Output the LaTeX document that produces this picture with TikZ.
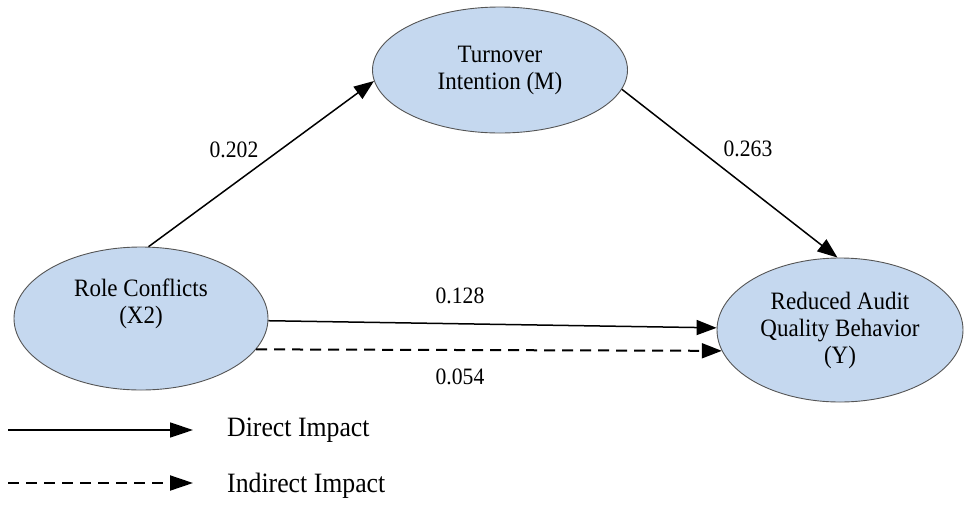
\documentclass[tikz,border=0pt]{standalone}
\usepackage{fontspec}
\setmainfont{LiberationSerif}[Extension=.ttf, UprightFont=*-Regular, BoldFont=*-Bold, ItalicFont=*-Italic, BoldItalicFont=*-BoldItalic, FakeStretch=0.92]
\usetikzlibrary{arrows.meta,shapes.geometric}
\definecolor{ellfill}{HTML}{C5D8EF}
\definecolor{ellline}{HTML}{555555}
\tikzset{
  var/.style={ellipse, draw=ellline, line width=0.9pt, fill=ellfill, inner sep=0pt,
    align=center, font=\fontsize{25}{27}\selectfont},
  path/.style={line width=1.5pt, -{Triangle[length=20pt,width=15pt]}},
  ipath/.style={path, line width=2pt, dash pattern=on 11pt off 7pt},
  coef/.style={font=\fontsize{23.5}{26}\selectfont, inner sep=0pt},
  legtext/.style={font=\fontsize{28}{30}\selectfont, anchor=west, inner sep=0pt}
}
\begin{document}
\begin{tikzpicture}[x=1pt,y=-1pt]
\useasboundingbox (0,0) rectangle (964,504);
\node[var, minimum width=255pt, minimum height=126pt] (M) at (500,70) {Turnover\\Intention (M)};
\node[var, minimum width=254pt, minimum height=143pt] (X) at (141,318.5) {Role Conflicts\\(X2)\\[8pt]};
\node[var, minimum width=246pt, minimum height=144pt] (Y) at (840,330) {Reduced Audit\\Quality Behavior\\(Y)};
\draw[path] (X.84.3) -- (M.185.8);
\draw[path] (M.-9) -- (Y.92.4);
\draw[path] (X.-1.1) -- (Y.179);
\draw[ipath] (X.-15.8) -- (Y.190.8);
\node[coef] (c1) at (234,150) {0.202};
\node[coef] (c2) at (748,149) {0.263};
\node[coef] (c3) at (460,296) {0.128};
\node[coef] (c4) at (460,377) {0.054};
\coordinate (d1) at (8,430);
\coordinate (d2) at (193,430);
\coordinate (i1) at (8,483);
\coordinate (i2) at (193,483);
\draw[path, -{Triangle[length=23pt,width=15pt]}] (d1) -- (d2);
\draw[ipath, -{Triangle[length=23pt,width=15pt]}] (i1) -- (i2);
\node[legtext] (dl) at (227,430) {Direct Impact};
\node[legtext] (il) at (227,486) {Indirect Impact};
\end{tikzpicture}
\end{document}
